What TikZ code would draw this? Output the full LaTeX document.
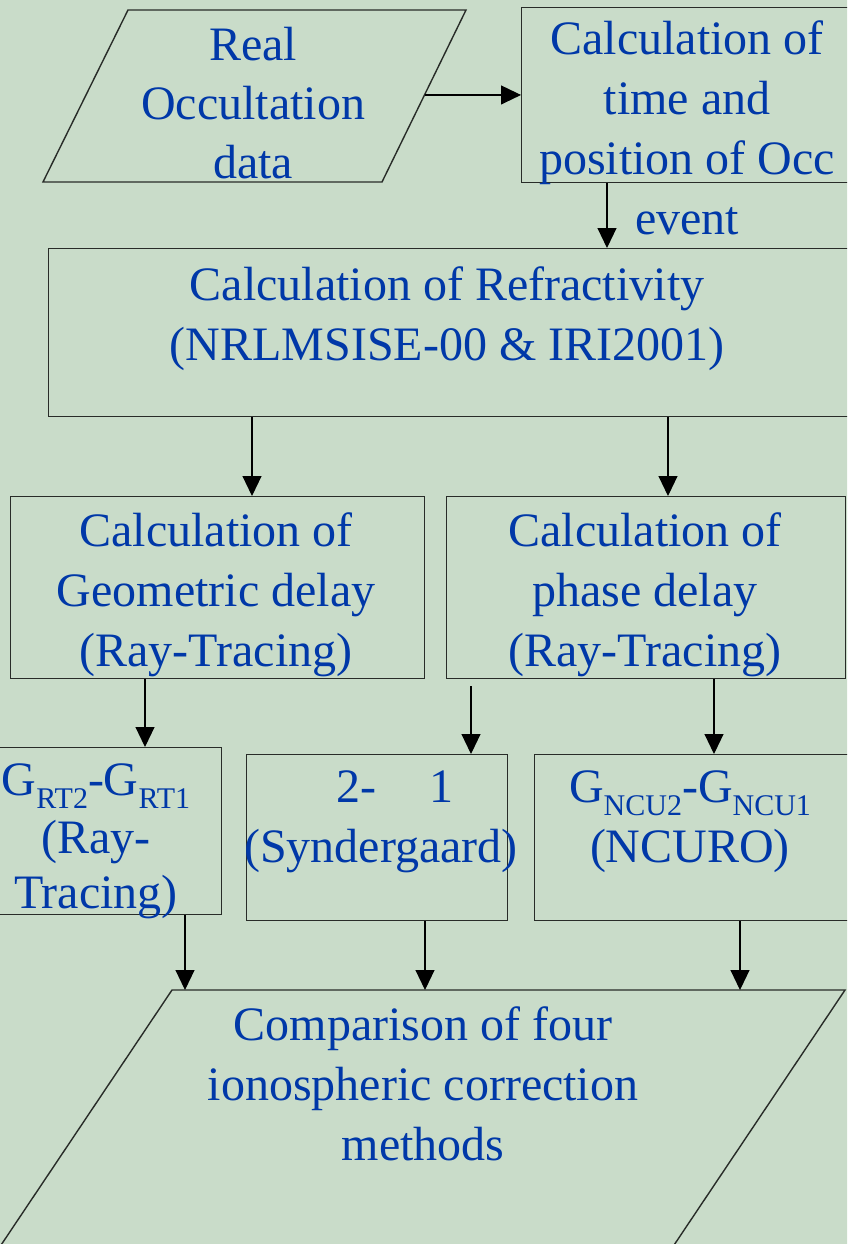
\documentclass[tikz,border=0pt]{standalone}
\usepackage{fontspec}
\setmainfont{Liberation Serif}
\usetikzlibrary{arrows.meta,calc}
\definecolor{bgc}{RGB}{201,220,201}
\definecolor{txtc}{RGB}{0,56,168}
\definecolor{linec}{RGB}{40,44,40}
\newcommand{\sbs}[1]{\raisebox{-13pt}{\fontsize{30}{30}\selectfont #1}}
\newcommand{\tlines}[1]{\begin{tabular}[t]{@{}c@{}}#1\end{tabular}}
\begin{document}
\begin{tikzpicture}[x=1pt,y=-1pt,
  box/.style={draw=linec,line width=1.4pt,inner sep=0pt,anchor=north west},
  txt/.style={text=txtc,inner sep=0pt,anchor=base,font=\fontsize{48}{60}\selectfont},
  arr/.style={draw=black,line width=1.1pt,-{Triangle[length=20pt,width=19pt]}},
  shapeline/.style={draw=linec,line width=1.4pt}]
\useasboundingbox (0,0) rectangle (847,1244);
\clip (0,0) rectangle (847,1244);
\fill[bgc] (-5,-5) rectangle (852,1249);

% parallelogram 1
\coordinate (p1tl) at (128,10);
\coordinate (p1tr) at (466,10);
\coordinate (p1br) at (382,182);
\coordinate (p1bl) at (43,182);
\draw[shapeline] (p1tl) -- (p1tr) -- (p1br) -- (p1bl) -- cycle;
\coordinate (p1r) at ($(p1tr)!0.494!(p1br)$);

% boxes
\node[box,minimum width=340pt,minimum height=175pt] (b2) at (521,7) {};
\node[box,minimum width=812pt,minimum height=168pt] (b3) at (48,248) {};
\node[box,minimum width=414pt,minimum height=182pt] (b4) at (10,496) {};
\node[box,minimum width=399pt,minimum height=182pt] (b5) at (446,496) {};
\node[box,minimum width=231pt,minimum height=167pt] (b6) at (-10,747) {};
\node[box,minimum width=261pt,minimum height=166pt] (b7) at (246,754) {};
\node[box,minimum width=326pt,minimum height=166pt] (b8) at (534,754) {};

% parallelogram 9
\coordinate (p9tl) at (172,990);
\coordinate (p9tr) at (845,990);
\coordinate (p9br) at (664,1260);
\coordinate (p9bl) at (-9,1260);
\draw[shapeline] (p9tl) -- (p9tr) -- (p9br) -- (p9bl) -- cycle;

% texts
\node[txt] (t1) at (253,61) {\renewcommand{\arraystretch}{0.98}\tlines{Real\\Occultation\\data}};
\node[txt] (t2) at (687,55) {\tlines{Calculation of\\time and\\position of Occ\\event}};
\node[txt] (t3) at (447,300) {\tlines{Calculation of Refractivity\\(NRLMSISE-00 \& IRI2001)}};
\node[txt] (t4) at (216,546) {\tlines{Calculation of\\Geometric delay\\(Ray-Tracing)}};
\node[txt] (t5) at (645,546) {\tlines{Calculation of\\phase delay\\(Ray-Tracing)}};
\node[txt] (t6) at (96,795) {\tlines{G\sbs{RT2}-G\sbs{RT1}\\[-2pt](Ray-\\[-5pt]Tracing)}};
\node[txt] (t7) at (381,802) {\tlines{\hspace{28pt}2-\hspace{53pt}1\\(Syndergaard)}};
\node[txt] (t8) at (690,802) {\tlines{G\sbs{NCU2}-G\sbs{NCU1}\\(NCURO)}};
\node[txt] (t9) at (423,1040) {\tlines{Comparison of four\\ionospheric correction\\methods}};

% connector x positions
\coordinate (x607) at (607,0);
\coordinate (x252) at (252,0);
\coordinate (x668) at (668,0);
\coordinate (x145) at (145,0);
\coordinate (s6) at (471,686);
\coordinate (x714) at (714,0);
\coordinate (x185) at (185,0);
\coordinate (x425) at (425,0);
\coordinate (x740) at (740,0);

% connectors
\draw[arr] (p1r) -- (b2.west |- p1r);
\draw[arr] (b2.south -| x607) -- (b3.north -| x607);
\draw[arr] (b3.south -| x252) -- (b4.north -| x252);
\draw[arr] (b3.south -| x668) -- (b5.north -| x668);
\draw[arr] (b4.south -| x145) -- (b6.north -| x145);
\draw[arr] (s6) -- (b7.north -| s6);
\draw[arr] (b5.south -| x714) -- (b8.north -| x714);
\draw[arr] (b6.south -| x185) -- (p9tl -| x185);
\draw[arr] (b7.south -| x425) -- (p9tl -| x425);
\draw[arr] (b8.south -| x740) -- (p9tl -| x740);
\end{tikzpicture}
\end{document}
